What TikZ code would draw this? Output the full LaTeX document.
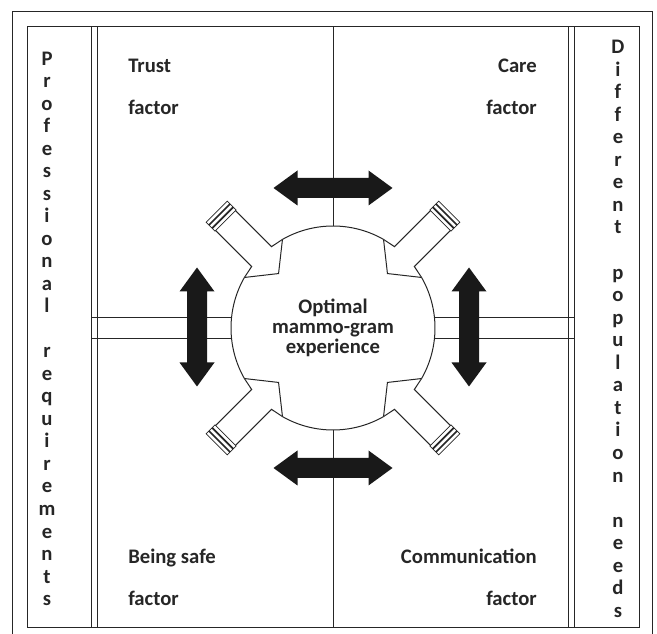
\documentclass[tikz,border=0pt]{standalone}
\usepackage{fontspec}
\setmainfont{Carlito}
\tikzset{
  ln/.style={draw=black!85, line width=0.75pt},
  thinln/.style={draw=black!85, line width=0.55pt},
  lbl/.style={font=\fontsize{15.5}{18}\selectfont\bfseries, text=black!85, inner sep=0pt},
  colchar/.style={lbl, anchor=base},
  dblarrow/.pic={
    \fill[black!90] (-59.5,0) -- (-35.5,-17.5) -- (-35.5,-10) -- (35.5,-10) -- (35.5,-17.5)
      -- (59.5,0) -- (35.5,17.5) -- (35.5,10) -- (-35.5,10) -- (-35.5,17.5) -- cycle;
  },
  plug/.pic={
    \draw[ln] (-15.3:102) -- (101,-14) -- (152,-14);
    \draw[ln] (15.3:102) -- (101,14) -- (152,14);
    \draw[ln] (-15.3:102) -- (77,0) -- (15.3:102);
    \draw[thinln] (152,-15) rectangle (155.5,15) (156.5,-15) rectangle (160,15)
      (161,-15) rectangle (164.5,15);
  }
}
\begin{document}
\begin{tikzpicture}[x=0.75pt,y=-0.75pt]
\useasboundingbox (0,0) rectangle (657,634);
% frames
\draw[ln] (12,640) -- (12,12) -- (652,12) -- (652,640);
\draw[ln] (27,27) rectangle (639,627);
\draw[ln] (91,27) -- (91,627) (97,27) -- (97,627) (568,27) -- (568,627) (574,27) -- (574,627);
\coordinate (ldiv) at (91,27);
\coordinate (rdiv) at (574,27);
% centre
\node[circle, minimum size=153pt, lbl, align=center, font=\fontsize{15.5}{15}\selectfont\bfseries]
  (core) at (333,328) {Optimal\\mammo-gram\\experience};
\draw[ln] (333,27) -- (core.north);
\draw[ln] (core.south) -- (333,627);
\draw[ln] (core.174) -- (core.174 -| ldiv) (core.186) -- (core.186 -| ldiv);
\draw[ln] (core.6) -- (core.6 -| rdiv) (core.354) -- (core.354 -| rdiv);
\begin{scope}[shift={(core.center)}]
  \foreach \a in {45,135,225,315} {
    \draw[ln] (\a+15.3:102) arc[start angle=\a+15.3, end angle=\a+74.7, radius=102];
    \pic[rotate=\a] at (0,0) {plug};
  }
\end{scope}
% arrows
\pic at (333,188) {dblarrow};
\pic at (333,468) {dblarrow};
\pic[rotate=90] at (197,327) {dblarrow};
\pic[rotate=90] at (469,327) {dblarrow};
% corner labels
\node[lbl, anchor=base west] (trust) at (128,73) {Trust};
\node[lbl, anchor=base west] (trustf) at (128,115) {factor};
\node[lbl, anchor=base east] (care) at (537,73) {Care};
\node[lbl, anchor=base east] (caref) at (537,115) {factor};
\node[lbl, anchor=base west] (safe) at (128,563) {Being safe};
\node[lbl, anchor=base west] (safef) at (128,605) {factor};
\node[lbl, anchor=base east] (comm) at (537,563) {Communication};
\node[lbl, anchor=base east] (commf) at (537,605) {factor};
% side columns
\foreach \ch [count=\k] in {P,r,o,f,e,s,s,i,o,n,a,l,{},r,e,q,u,i,r,e,m,e,n,t,s}
  \node[colchar] (prof\k) at (47,43+22.5*\k) {\ch};
\foreach \ch [count=\k] in {D,i,f,f,e,r,e,n,t,{},p,o,p,u,l,a,t,i,o,n,{},n,e,e,d,s}
  \node[colchar] (diff\k) at (618,30.9+22.56*\k) {\ch};
\end{tikzpicture}
\end{document}
